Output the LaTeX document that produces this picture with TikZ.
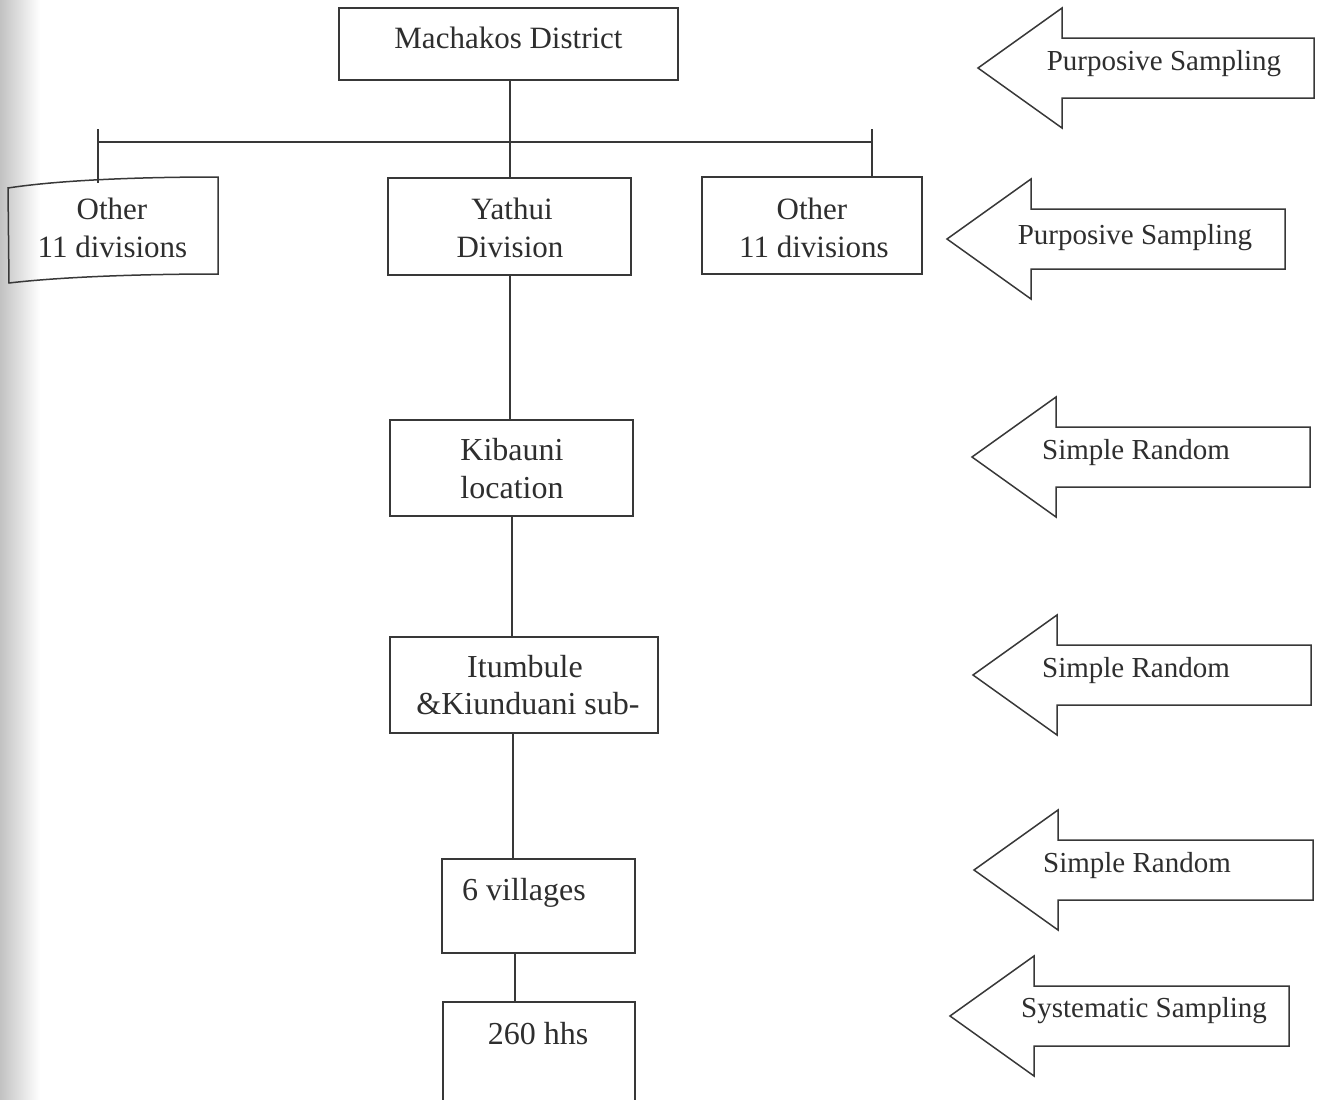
\documentclass[tikz,border=0pt]{standalone}
\usepackage{fontspec}
\setmainfont{Liberation Serif}
\usetikzlibrary{calc}
\definecolor{ink}{HTML}{383838}
\definecolor{txt}{HTML}{2E2E2E}
\newcommand{\samplearrow}[4]{% name, tip x, tip y, right x
  \draw[arrowshape] (#2,#3) coordinate (#1) -- (#2+84,#3-60) -- (#2+84,#3-30) -- (#4,#3-30)
    -- (#4,#3+30) -- (#2+84,#3+30) -- (#2+84,#3+60) -- cycle;}
\begin{document}
\begin{tikzpicture}[x=1pt,y=-1pt,
  box/.style={draw=ink, line width=1.5pt, inner sep=0pt, outer sep=0pt},
  lbl/.style={text=txt, font=\fontsize{31}{31}\selectfont, inner sep=0pt, anchor=base},
  lbltwo/.style={text=txt, font=\fontsize{32}{32}\selectfont, inner sep=0pt, anchor=base},
  albl/.style={text=txt, font=\fontsize{29}{29}\selectfont, inner sep=0pt, anchor=base},
  conn/.style={draw=ink, line width=1.6pt},
  arrowshape/.style={draw=ink, line width=1.5pt, line join=miter, fill=white}]
\useasboundingbox (0,0) rectangle (1326,1100);
\begin{scope}
\clip (0,0) rectangle (1326,1100);
\fill[white] (0,0) rectangle (1326,1100);
\shade[left color=black!24, right color=white] (0,0) rectangle (40,1100);

% boxes
\node[box, minimum width=339pt, minimum height=72pt] (mach) at (508.5,44) {};
\node[box, minimum width=243pt, minimum height=97pt] (yat) at (509.5,226.5) {};
\node[box, minimum width=220pt, minimum height=97pt] (oth2) at (812,225.5) {};
\node[box, minimum width=243pt, minimum height=96pt] (kib) at (511.5,468) {};
\node[box, minimum width=268pt, minimum height=96pt] (itu) at (524,685) {};
\node[box, minimum width=193pt, minimum height=94pt] (vil) at (538.5,906) {};
\node[box, minimum width=192pt, minimum height=118pt] (hhs) at (539,1061) {};
% left box (slightly skewed in the scan)
\coordinate (o1tl) at (8,188);
\coordinate (o1tr) at (218,177);
\coordinate (o1br) at (218,274);
\coordinate (o1bl) at (9,283);
\coordinate (o1tick) at (98,182.5);
\draw[box] (o1tl) .. controls (60,180) and (140,177) .. (o1tr) -- (o1br)
   .. controls (140,274) and (60,277) .. (o1bl) -- cycle;

% connectors
\coordinate (hl) at (98,142);
\coordinate (hr) at (872,142);
\coordinate (tl) at (98,129);
\coordinate (tr) at (872,129);
\coordinate (vtop) at (510,80);
\draw[conn] (vtop) -- (vtop |- yat.north);
\draw[conn] (hl) -- (hr);
\draw[conn] (tl) -- (o1tick);
\draw[conn] (tr) -- (tr |- oth2.north);
\draw[conn] ([xshift=0.5pt]yat.south) -- ([xshift=0.5pt]yat.south |- kib.north);
\draw[conn] ([xshift=0.5pt]kib.south) -- ([xshift=0.5pt]kib.south |- itu.north);
\draw[conn] ([xshift=1.5pt]kib.south |- itu.south) -- ([xshift=1.5pt]kib.south |- vil.north);
\draw[conn] ([xshift=-23.5pt]vil.south) -- ([xshift=-23.5pt]vil.south |- hhs.north);

% box texts
\node[lbl] (tmach) at (508.5,48) {Machakos District};
\node[lbl] (to1a) at (112,219) {Other};
\node[lbl] (to1b) at (112.5,257) {11 divisions};
\node[lbl] (tyat1) at (512,219) {Yathui};
\node[lbl] (tyat2) at (510,257) {Division};
\node[lbl] (to2a) at (812,219) {Other};
\node[lbl] (to2b) at (814,257) {11 divisions};
\node[lbltwo] (tkib1) at (512,460) {Kibauni};
\node[lbltwo] (tkib2) at (512,498) {location};
\node[lbltwo] (titu1) at (525,677) {Itumbule};
\node[lbltwo] (titu2) at (528,714) {\&Kiunduani sub-};
\node[lbltwo] (tvil) at (524,900) {6 villages};
\node[lbltwo] (thhs) at (538,1044) {260 hhs};

% sampling arrows
\samplearrow{a1}{978}{68}{1314}
\samplearrow{a2}{947}{239}{1285}
\samplearrow{a3}{972}{457}{1310}
\samplearrow{a4}{973}{675}{1311}
\samplearrow{a5}{974}{870}{1313}
\samplearrow{a6}{950}{1016}{1289}
\node[albl] (ta1) at (1164,70) {Purposive Sampling};
\node[albl] (ta2) at (1135,244) {Purposive Sampling};
\node[albl] (ta3) at (1136,459) {Simple Random};
\node[albl] (ta4) at (1136,677) {Simple Random};
\node[albl] (ta5) at (1137,872) {Simple Random};
\node[albl] (ta6) at (1144,1017) {Systematic Sampling};
\end{scope}
\end{tikzpicture}
\end{document}
